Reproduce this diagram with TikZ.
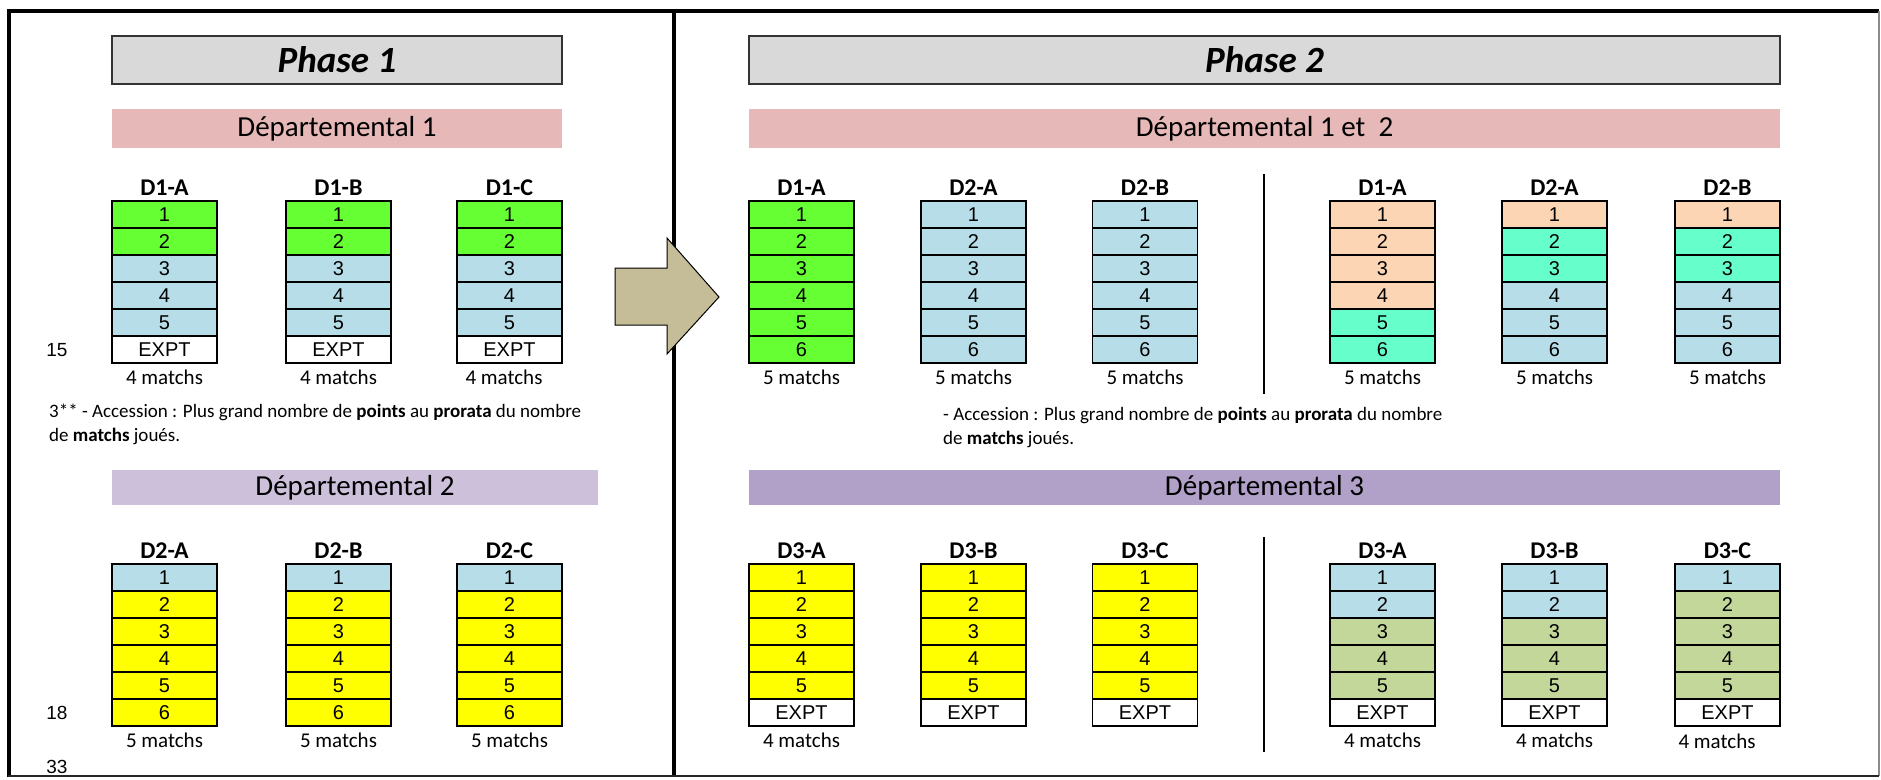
\documentclass[tikz,border=0pt]{standalone}
\usepackage{fontspec}
\setmainfont{Carlito}
\newfontfamily\arialf{Liberation Sans}
\definecolor{phgray}{HTML}{D9D9D9}
\definecolor{dunc}{HTML}{E6B8B7}
\definecolor{ddeux}{HTML}{CCC0DA}
\definecolor{dtrois}{HTML}{B1A0C7}
\definecolor{cgreen}{HTML}{66FF33}
\definecolor{cblue}{HTML}{B7DEE8}
\definecolor{cyel}{HTML}{FFFF00}
\definecolor{cpeach}{HTML}{FCD5B4}
\definecolor{caqua}{HTML}{66FFCC}
\definecolor{colive}{HTML}{C4D79B}
\definecolor{arrowtan}{HTML}{C4BD97}
\tikzset{
  cell/.style={draw=black, line width=1.6pt, minimum width=105pt, minimum height=27pt, inner sep=0pt, font=\arialf\fontsize{20}{20}\selectfont},
  collabel/.style={inner sep=0pt, font=\bfseries\fontsize{24}{24}\selectfont},
  matchlbl/.style={inner sep=0pt, font=\fontsize{21}{21}\selectfont},
  phasebox/.style={draw=black!80, line width=2pt, fill=phgray, minimum height=48pt, inner sep=0pt, font=\bfseries\itshape\fontsize{37}{37}\selectfont},
  band/.style={minimum height=39pt, inner sep=0pt, font=\fontsize{29}{29}\selectfont},
  note/.style={inner sep=0pt, anchor=base west, font=\fontsize{19}{19}\selectfont},
  sidenum/.style={inner sep=0pt, font=\arialf\fontsize{19}{19}\selectfont},
  frameline/.style={line width=4pt, black},
}
\newcommand\mkcol[5]{%
  \node[collabel] (#1-l) at (#2,#3-13) {#4};
  \foreach \cellc/\cellt [count=\ci] in {#5} {
    \node[cell, fill=\cellc] (#1-\ci) at (#2,#3+\ci*27-13.5) {\cellt};
  }%
}
\begin{document}
\begin{tikzpicture}[x=1pt,y=-1pt]
\useasboundingbox (0,0) rectangle (1881,779);
\fill[white] (0,0) rectangle (1881,779);
% frame
\draw[frameline] (7,11) -- (1879,11);
\draw[frameline] (9,9) -- (9,777);
\draw[frameline] (674,9) -- (674,777);
\draw[line width=1.2pt, black!45] (1879,11) -- (1879,776);
\draw[line width=2.5pt, black!85] (8,776) -- (1879,776);
% arrow
\draw[fill=arrowtan, line width=1pt, line join=miter] (615,268) -- (667,268) -- (667,238) -- (719,297) -- (667,354) -- (667,325) -- (615,325) -- cycle;
% titles
\node[phasebox, minimum width=450pt] (ph1) at (337,60) {Phase 1};
\node[phasebox, minimum width=1031pt] (ph2) at (1264.5,60) {Phase 2};
\node[band, fill=dunc, minimum width=450pt] (dep1) at (337,128.5) {Départemental 1};
\node[band, fill=dunc, minimum width=1031pt] (dep12) at (1264.5,128.5) {Départemental 1 et~~2};
\node[band, fill=ddeux, minimum width=486pt, minimum height=35pt] (dep2) at (355,487.5) {Départemental 2};
\node[band, fill=dtrois, minimum width=1031pt, minimum height=35pt] (dep3) at (1264.5,487.5) {Départemental 3};
% phase 1 top
\mkcol{pa}{164.5}{201}{D1-A}{cgreen/1,cgreen/2,cblue/3,cblue/4,cblue/5,white/EXPT}
\mkcol{pb}{338.5}{201}{D1-B}{cgreen/1,cgreen/2,cblue/3,cblue/4,cblue/5,white/EXPT}
\mkcol{pc}{509.5}{201}{D1-C}{cgreen/1,cgreen/2,cblue/3,cblue/4,cblue/5,white/EXPT}
\node[matchlbl] (pa-m) at (164.5,377) {4 matchs};
\node[matchlbl] (pb-m) at (338.5,377) {4 matchs};
\node[matchlbl] (pc-m) at (504,377) {4 matchs};
% phase 1 bottom
\mkcol{qa}{164.5}{564}{D2-A}{cblue/1,cyel/2,cyel/3,cyel/4,cyel/5,cyel/6}
\mkcol{qb}{338.5}{564}{D2-B}{cblue/1,cyel/2,cyel/3,cyel/4,cyel/5,cyel/6}
\mkcol{qc}{509.5}{564}{D2-C}{cblue/1,cyel/2,cyel/3,cyel/4,cyel/5,cyel/6}
\node[matchlbl] (qa-m) at (164.5,740) {5 matchs};
\node[matchlbl] (qb-m) at (338.5,740) {5 matchs};
\node[matchlbl] (qc-m) at (509.5,740) {5 matchs};
% side numbers
\node[sidenum] (n15) at (57,350) {15};
\node[sidenum] (n18) at (57,713) {18};
\node[sidenum] (n33) at (57,767) {33};
% notes
\node[note] (acc1a) at (49,417) {3** - Accession : Plus grand nombre de \textbf{points} au \textbf{prorata} du nombre};
\node[note] (acc1b) at (49,441) {de \textbf{matchs} joués.};
\node[note] (acc2a) at (943,420) {- Accession : Plus grand nombre de \textbf{points} au \textbf{prorata} du nombre};
\node[note] (acc2b) at (943,444) {de \textbf{matchs} joués.};
% phase 2 top left
\mkcol{ra}{801.5}{201}{D1-A}{cgreen/1,cgreen/2,cgreen/3,cgreen/4,cgreen/5,cgreen/6}
\mkcol{rb}{973.5}{201}{D2-A}{cblue/1,cblue/2,cblue/3,cblue/4,cblue/5,cblue/6}
\mkcol{rc}{1145}{201}{D2-B}{cblue/1,cblue/2,cblue/3,cblue/4,cblue/5,cblue/6}
% phase 2 top right
\mkcol{sa}{1382.5}{201}{D1-A}{cpeach/1,cpeach/2,cpeach/3,cpeach/4,caqua/5,caqua/6}
\mkcol{sb}{1554.5}{201}{D2-A}{cpeach/1,caqua/2,caqua/3,cblue/4,cblue/5,cblue/6}
\mkcol{sc}{1727.5}{201}{D2-B}{cpeach/1,caqua/2,caqua/3,cblue/4,cblue/5,cblue/6}
\node[matchlbl] (ra-m) at (801.5,377) {5 matchs};
\node[matchlbl] (rb-m) at (973.5,377) {5 matchs};
\node[matchlbl] (rc-m) at (1145,377) {5 matchs};
\node[matchlbl] (sa-m) at (1382.5,377) {5 matchs};
\node[matchlbl] (sb-m) at (1554.5,377) {5 matchs};
\node[matchlbl] (sc-m) at (1727.5,377) {5 matchs};
% phase 2 bottom left
\mkcol{ta}{801.5}{564}{D3-A}{cyel/1,cyel/2,cyel/3,cyel/4,cyel/5,white/EXPT}
\mkcol{tb}{973.5}{564}{D3-B}{cyel/1,cyel/2,cyel/3,cyel/4,cyel/5,white/EXPT}
\mkcol{tc}{1145}{564}{D3-C}{cyel/1,cyel/2,cyel/3,cyel/4,cyel/5,white/EXPT}
% phase 2 bottom right
\mkcol{ua}{1382.5}{564}{D3-A}{cblue/1,cblue/2,colive/3,colive/4,colive/5,white/EXPT}
\mkcol{ub}{1554.5}{564}{D3-B}{cblue/1,cblue/2,colive/3,colive/4,colive/5,white/EXPT}
\mkcol{uc}{1727.5}{564}{D3-C}{cblue/1,colive/2,colive/3,colive/4,colive/5,white/EXPT}
\node[matchlbl] (ta-m) at (801.5,740) {4 matchs};
\node[matchlbl] (ua-m) at (1382.5,740) {4 matchs};
\node[matchlbl] (ub-m) at (1554.5,740) {4 matchs};
\node[matchlbl] (uc-m) at (1717,741) {4 matchs};
% separators
\draw[line width=1.5pt] (1264,174) -- (1264,394);
\draw[line width=1.5pt] (1264,537) -- (1264,752);
\end{tikzpicture}
\end{document}
